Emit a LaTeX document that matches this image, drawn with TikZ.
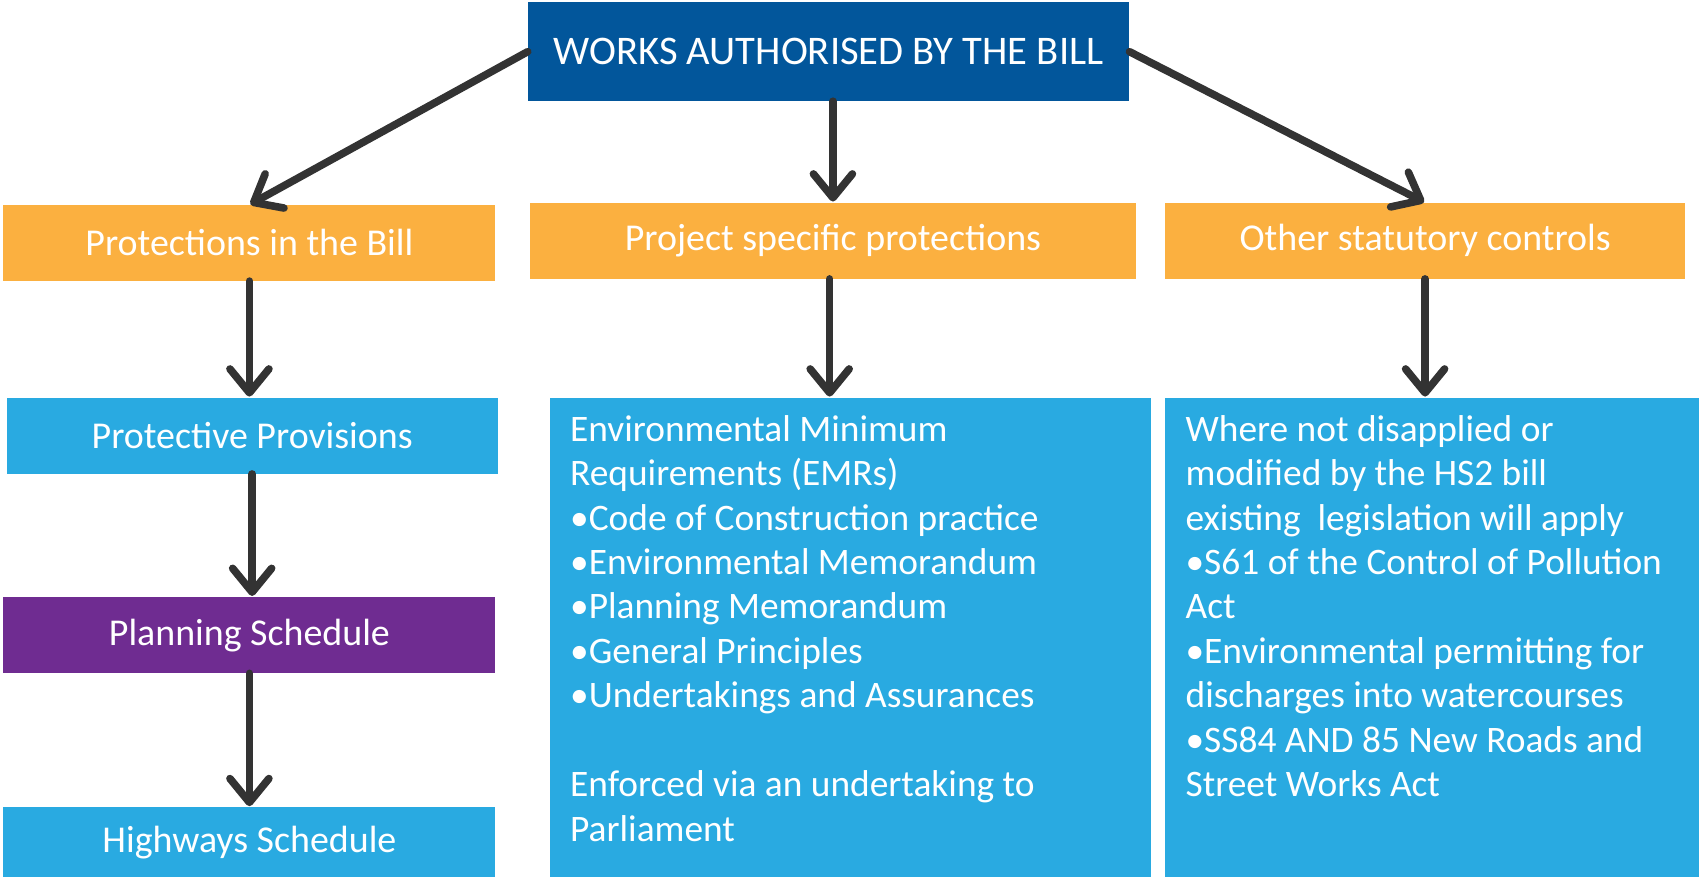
\documentclass[tikz,border=0pt]{standalone}
\usepackage{fontspec}
\setmainfont{Carlito}
\usetikzlibrary{arrows.meta,calc}
\definecolor{topblue}{RGB}{2,86,155}
\definecolor{orng}{RGB}{251,176,64}
\definecolor{lblue}{RGB}{41,170,225}
\definecolor{purp}{RGB}{111,44,145}
\definecolor{arrgray}{RGB}{51,51,51}
\tikzset{
  boxbase/.style={rectangle, inner sep=0pt, anchor=north west, text=white},
  topbox/.style={boxbase, fill=topblue},
  orbox/.style={boxbase, fill=orng},
  blbox/.style={boxbase, fill=lblue},
  ppbox/.style={boxbase, fill=purp},
  bodytext/.style={anchor=north west, inner sep=0pt, text=white, align=left, font=\fontsize{34.5}{41}\selectfont},
  headtext/.style={font=\fontsize{35}{40}\selectfont},
  titletext/.style={font=\fontsize{37.5}{42}\selectfont},
  arr/.style={draw=arrgray, line width=7pt, line cap=round, shorten >=1pt,
    -{Straight Barb[length=22pt,width=36pt,round]}}
}
\begin{document}
\begin{tikzpicture}[x=1pt,y=-1pt]
\useasboundingbox (0,0) rectangle (1568,809);
% top
\node[topbox, minimum width=555pt, minimum height=91pt, titletext] (top) at (487,2) {WORKS AUTHORISED BY THE BILL};
% orange row
\node[orbox, minimum width=454pt, minimum height=70pt, headtext] (pib) at (3,189) {Protections in the Bill};
\node[orbox, minimum width=559pt, minimum height=70pt, headtext] (psp) at (489,187) {Project specific protections};
\node[orbox, minimum width=480pt, minimum height=70pt, headtext] (osc) at (1075,187) {Other statutory controls};
% left column
\node[blbox, minimum width=453pt, minimum height=70pt, headtext] (pp) at (6,367) {Protective Provisions};
\node[ppbox, minimum width=454pt, minimum height=70pt, headtext] (ps) at (3,551) {Planning Schedule};
\node[blbox, minimum width=454pt, minimum height=64pt, headtext] (hs) at (3,745) {Highways Schedule};
% big boxes
\node[blbox, minimum width=555pt, minimum height=442pt] (emr) at (507,367) {};
\node[blbox, minimum width=493pt, minimum height=442pt] (oth) at (1075,367) {};
\node[bodytext] (emrtext) at (526,383) {Environmental Minimum\\Requirements (EMRs)\\•Code of Construction practice\\•Environmental Memorandum\\•Planning Memorandum\\•General Principles\\•Undertakings and Assurances\\[41pt]Enforced via an undertaking to\\Parliament};
\node[bodytext] (othtext) at (1094,383) {Where not disapplied or\\modified by the HS2 bill\\existing\ \ legislation will apply\\•S61 of the Control of Pollution\\Act\\•Environmental permitting for\\discharges into watercourses\\•SS84 AND 85 New Roads and\\Street Works Act};
% arrows
\draw[arr] (top.west) -- (pib.north);
\draw[arr] (psp.north |- top.south) -- (psp.north);
\draw[arr] (top.east) -- (osc.north);
\draw[arr] (pib.south) -- (pib.south |- pp.north);
\draw[arr] (pp.south) -- (pp.south |- ps.north);
\draw[arr] (ps.south) -- (ps.south |- hs.north);
\draw[arr] ([xshift=-3pt]psp.south) -- ([xshift=-3pt]psp.south |- emr.north);
\draw[arr] (osc.south) -- (osc.south |- oth.north);
\end{tikzpicture}
\end{document}
